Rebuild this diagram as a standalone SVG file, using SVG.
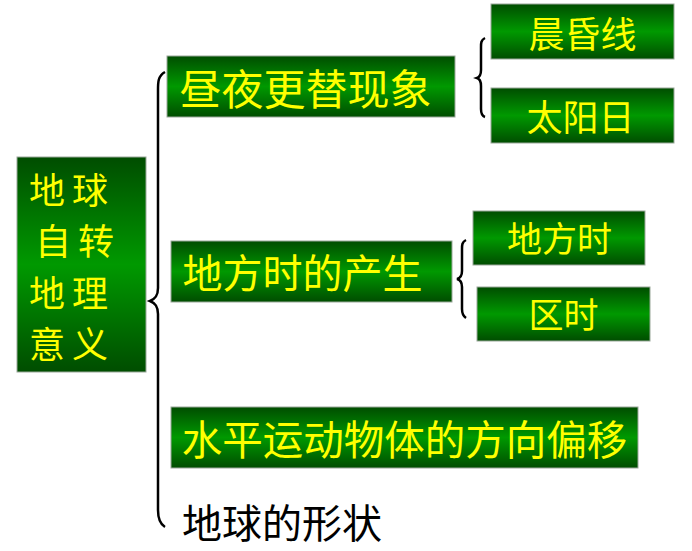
<svg xmlns="http://www.w3.org/2000/svg" width="692" height="551" viewBox="0 0 692 551">
<defs>
<linearGradient id="g" x1="0" y1="0" x2="0" y2="1">
<stop offset="0" stop-color="#004d00"/>
<stop offset="0.5" stop-color="#009900"/>
<stop offset="1" stop-color="#004d00"/>
</linearGradient>
<style>
.box{fill:url(#g);stroke:#9aa89a;stroke-width:1}
.t{fill:#ffff00;font-family:"Noto Sans CJK SC","Noto Sans CJK TC",sans-serif;text-anchor:middle}
.l{fill:#ffff00;font-family:"Noto Sans CJK SC","Noto Sans CJK TC",sans-serif;font-size:36px;letter-spacing:7px}
.k{fill:#000;font-family:"Noto Sans CJK SC","Noto Sans CJK TC",sans-serif;text-anchor:middle}
.br{fill:none;stroke:#000;stroke-width:2.5}
</style>
</defs>
<rect width="692" height="551" fill="#fff"/>
<g id="connectors">
<path class="br" d="M165,72 C158,76 158,82 158,90 L158,288 C158,296 155,299 150,301 C155,303 158,306 158,314 L158,510 C158,518 160,524 165,527"/>
<path class="br" d="M485,38 C481,40 481,43 481,47 L481,70 C481,74 480,77 477,78 C480,79 481,82 481,86 L481,109 C481,113 482,116 485,117"/>
<path class="br" d="M466,240 C462,242 462,245 462,249 L462,271 C462,275 461,278 457,279 C461,280 462,283 462,287 L462,309 C462,313 463,316 466,318"/>
</g>
<g id="root">
<rect class="box" x="17" y="157" width="129" height="215"/>
<text class="l" x="29" y="204">地球</text>
<text class="l" x="35" y="255">自转</text>
<text class="l" x="29" y="307">地理</text>
<text class="l" x="29" y="358">意义</text>
</g>
<g id="n-dayNight">
<rect class="box" x="167" y="56" width="288" height="61"/>
<text class="t" font-size="42" x="305.5" y="104.5">昼夜更替现象</text>
</g>
<g id="n-terminator">
<rect class="box" x="491" y="4" width="183" height="55"/>
<text class="t" font-size="36" x="582.5" y="47.5">晨昏线</text>
</g>
<g id="n-solarDay">
<rect class="box" x="491" y="88" width="183" height="55"/>
<text class="t" font-size="36" x="580.5" y="131">太阳日</text>
</g>
<g id="n-localTime">
<rect class="box" x="171" y="241" width="281" height="61"/>
<text class="t" font-size="40" x="302.5" y="287.5">地方时的产生</text>
</g>
<g id="n-localTime2">
<rect class="box" x="473" y="211" width="172" height="54"/>
<text class="t" font-size="35" x="559.5" y="252">地方时</text>
</g>
<g id="n-zoneTime">
<rect class="box" x="477" y="287" width="173" height="54"/>
<text class="t" font-size="35" x="563.5" y="328">区时</text>
</g>
<g id="n-deflection">
<rect class="box" x="171" y="407" width="467" height="61"/>
<text class="t" font-size="40.5" x="404.5" y="455">水平运动物体的方向偏移</text>
</g>
<g id="n-shape">
<text class="k" font-size="40" x="282" y="538">地球的形状</text>
</g>
</svg>
